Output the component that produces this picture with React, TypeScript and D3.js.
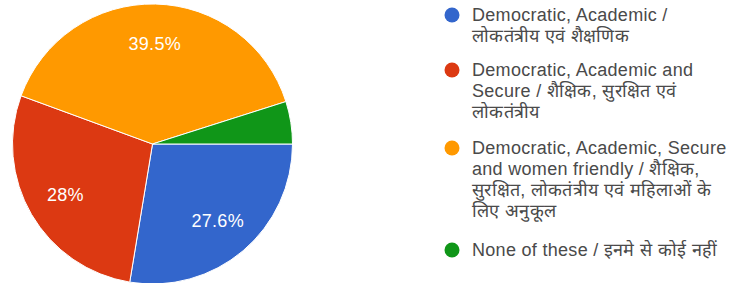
import React from 'react';
import * as d3 from 'd3';

const width = 733;
const height = 283;

// answer options, in legend order
const categories = [
  ['Democratic, Academic /', 'लोकतंत्रीय एवं शैक्षणिक'],
  ['Democratic, Academic and', 'Secure / शैक्षिक, सुरक्षित एवं', 'लोकतंत्रीय'],
  [
    'Democratic, Academic, Secure',
    'and women friendly / शैक्षिक,',
    'सुरक्षित, लोकतंत्रीय एवं महिलाओं के',
    'लिए अनुकूल',
  ],
  ['None of these / इनमे से कोई नहीं'],
];
const percents = [27.6, 28, 39.5, 4.9];
const sliceLabels = ['27.6%', '28%', '39.5%', ''];
const colors = ['#3366cc', '#dc3912', '#ff9900', '#109618'];

const cx = 152.5;
const cy = 144;
const radius = 140;

const FONT = '"Liberation Sans", Arial, sans-serif';

export default function App() {
  const pie = d3
    .pie<number>()
    .sort(null)
    .startAngle(Math.PI / 2)
    .endAngle(Math.PI / 2 + 2 * Math.PI);
  const arcs = pie(percents);
  const arcGen = d3.arc<d3.PieArcDatum<number>>().innerRadius(0).outerRadius(radius);
  const labelArc = d3
    .arc<d3.PieArcDatum<number>>()
    .innerRadius(radius * 0.72)
    .outerRadius(radius * 0.72);

  const lineH = 21;
  const legendTops = [15, 70, 148, 250];

  return (
    <svg
      width={width}
      height={height}
      style={{ position: 'absolute', left: 0, top: 0, background: '#fff' }}
    >
      <g transform={`translate(${cx},${cy})`}>
        {arcs.map((a, i) => (
          <path key={i} d={arcGen(a) || ''} fill={colors[i]} stroke="#fff" strokeWidth={1} />
        ))}
        {arcs.map((a, i) => {
          const [x, y] = labelArc.centroid(a);
          return (
            <text
              key={'l' + i}
              x={x}
              y={y}
              dy="0.35em"
              textAnchor="middle"
              fill="#fff"
              style={{ fontSize: '18px', letterSpacing: '0.3px', fontFamily: FONT }}
            >
              {sliceLabels[i]}
            </text>
          );
        })}
      </g>
      <g>
        {categories.map((lines, i) => (
          <g key={i}>
            <circle cx={452} cy={legendTops[i]} r={7.5} fill={colors[i]} />
            <text
              x={472}
              y={legendTops[i]}
              fill="#4a4a4a"
              style={{ fontSize: '18px', letterSpacing: '0.3px', fontFamily: FONT }}
            >
              {lines.map((t, j) => (
                <tspan key={j} x={472} y={legendTops[i] + j * lineH} dy="0.35em">
                  {t}
                </tspan>
              ))}
            </text>
          </g>
        ))}
      </g>
    </svg>
  );
}
